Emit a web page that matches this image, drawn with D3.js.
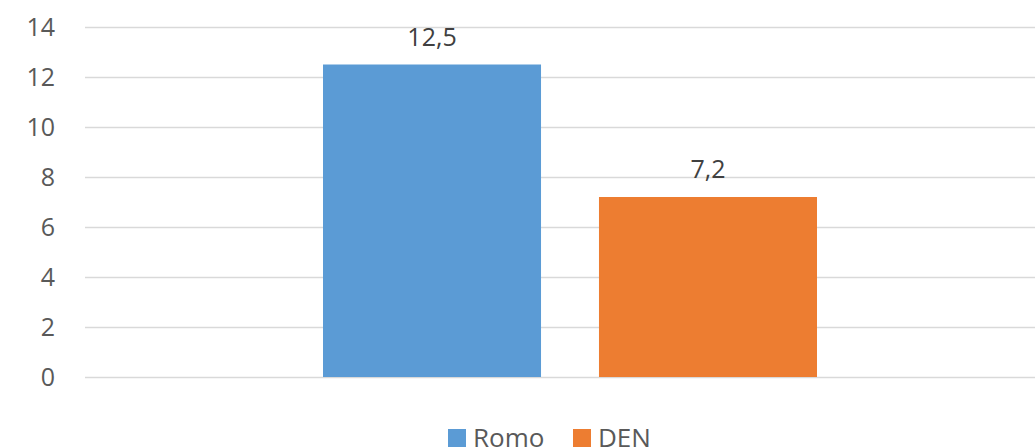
<!DOCTYPE html>
<html lang="en">
  <head>
    <meta charset="UTF-8" />
    <title>Romo vs DEN</title>
    <script src="https://d3js.org/d3.v7.min.js"></script>
    <style>
      body {
        margin: 0;
        background: #fff;
      }
      svg {
        display: block;
        font-family: "Open Sans", "Liberation Sans", sans-serif;
      }
    </style>
  </head>
  <body>
    <svg width="1035" height="447"></svg>
    <script>
      // Data
      const categories = [""];
      const seriesNames = ["Romo", "DEN"];
      const seriesValues = [12.5, 7.2];
      const seriesColors = ["#5b9bd5", "#ed7d31"];
      const yTicks = [0, 2, 4, 6, 8, 10, 12, 14];

      const svg = d3.select("svg");

      const plot = { left: 85, right: 1055, top: 27, bottom: 377 };

      const y = d3.scaleLinear().domain([0, 14]).range([plot.bottom, plot.top]);

      // outer band for the single category
      const x0 = d3
        .scaleBand()
        .domain(categories)
        .range([plot.left, plot.right])
        .paddingInner(0)
        .paddingOuter(0.4818);

      // inner band for the series
      const x1 = d3
        .scaleBand()
        .domain(seriesNames)
        .range([0, x0.bandwidth()])
        .paddingInner(0.21)
        .paddingOuter(0);

      // Gridlines
      svg
        .append("g")
        .selectAll("line")
        .data(yTicks)
        .join("line")
        .attr("x1", plot.left)
        .attr("x2", 1035)
        .attr("y1", (d) => Math.round(y(d)) + 0.5)
        .attr("y2", (d) => Math.round(y(d)) + 0.5)
        .attr("stroke", "#d9d9d9")
        .attr("stroke-width", 1.5);

      // Y axis labels
      const yAxis = svg
        .append("g")
        .attr("transform", "translate(55,0)")
        .call(d3.axisLeft(y).tickValues(yTicks).tickSize(0).tickPadding(0));
      yAxis.select(".domain").remove();
      yAxis
        .selectAll("text")
        .attr("font-family", "'Open Sans', sans-serif")
        .attr("font-size", 25)
        .attr("fill", "#595959");

      const bars = seriesNames.map((name, i) => ({
        name: name,
        value: seriesValues[i],
        color: seriesColors[i],
      }));

      const g = svg
        .append("g")
        .attr("transform", `translate(${x0(categories[0])},0)`);

      g.selectAll("rect")
        .data(bars)
        .join("rect")
        .attr("x", (d) => x1(d.name))
        .attr("y", (d) => y(d.value))
        .attr("width", x1.bandwidth())
        .attr("height", (d) => y(0) - y(d.value))
        .attr("fill", (d) => d.color);

      // Value labels
      const fmt = (v) => String(v).replace(".", ",");
      g.selectAll("text.val")
        .data(bars)
        .join("text")
        .attr("class", "val")
        .attr("x", (d) => x1(d.name) + x1.bandwidth() / 2)
        .attr("y", (d) => y(d.value) - 19)
        .attr("text-anchor", "middle")
        .attr("font-size", 25)
        .attr("fill", "#404040")
        .text((d) => fmt(d.value));

      // Legend
      const legendX = [448, 573];
      const legend = svg
        .append("g")
        .selectAll("g")
        .data(bars)
        .join("g")
        .attr("transform", (d, i) => `translate(${legendX[i]},429)`);
      legend
        .append("rect")
        .attr("width", 18)
        .attr("height", 18)
        .attr("fill", (d) => d.color);
      legend
        .append("text")
        .attr("x", 25)
        .attr("y", 18)
        .attr("font-size", 26)
        .attr("fill", "#595959")
        .text((d) => d.name);
    </script>
  </body>
</html>
